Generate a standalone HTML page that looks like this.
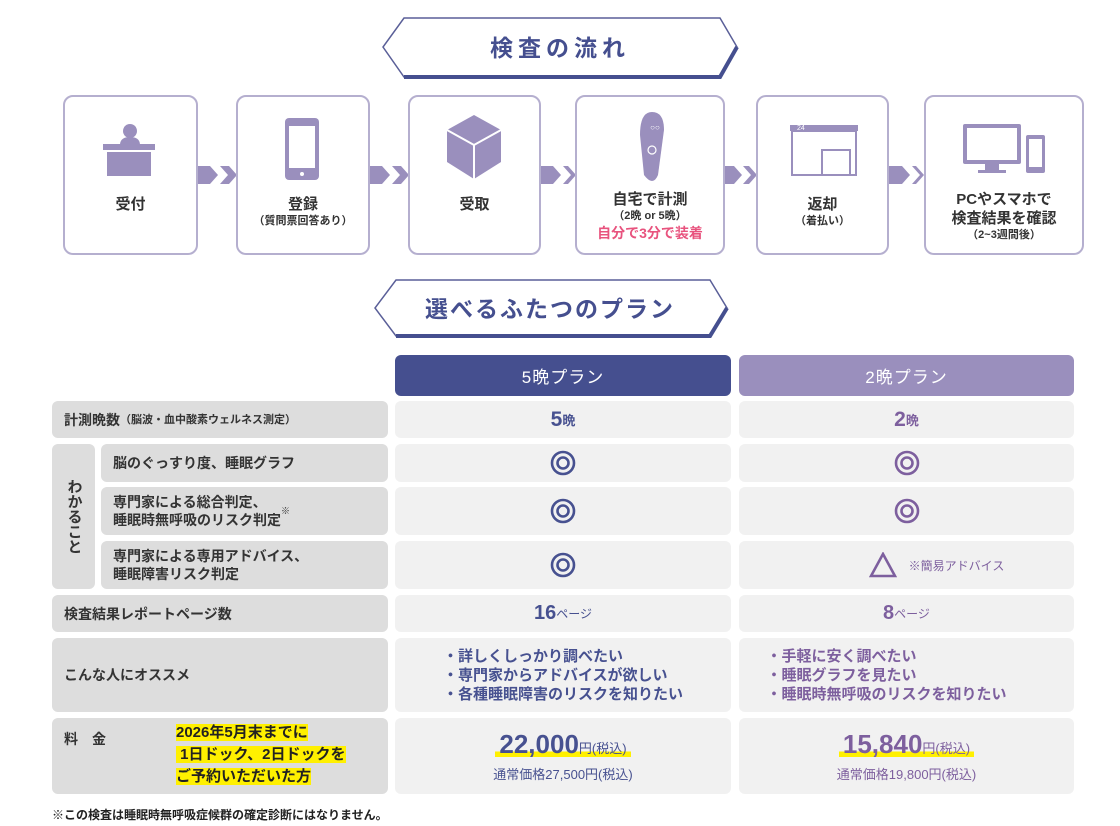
<!DOCTYPE html>
<html><head><meta charset="utf-8"><style>
*{margin:0;padding:0;box-sizing:border-box}
body{width:1120px;height:826px;background:#fff;position:relative;overflow:hidden;font-family:"Liberation Sans","Noto Sans CJK JP",sans-serif;color:#333}
.a{position:absolute}
.box{position:absolute;border:2px solid #b5afcf;border-radius:10px;background:#fff;top:95px;height:160px;text-align:center;font-weight:bold;font-size:15px;color:#333}
.box .t{position:absolute;left:0;right:0;top:98px;line-height:19px}
.box .s{font-size:11px;line-height:15px}
.c{position:absolute;border-radius:6px;display:flex;align-items:center}
.g{background:#dddddd;font-weight:bold;font-size:14px;padding-left:12px;line-height:18px}
.w{background:#f1f1f1;justify-content:center}
.n{color:#475190}.p{color:#7d5f9e}
.big{font-size:21px;font-weight:bold}
.hl{background:linear-gradient(transparent 72%,#fff000 72%,#fff000 90%,transparent 90%)}
</style></head><body>
<svg class="a" style="left:0;top:0" width="1120" height="826">
<polygon points="404,18 720,18 737,47 720,77 404,77 383,47" fill="#fff" stroke="#5a5f98" stroke-width="1.5"/>
<polyline points="404,77 720,77 737,47" fill="none" stroke="#454f8f" stroke-width="4"/>
<text x="560" y="56" text-anchor="middle" font-size="23" font-weight="bold" fill="#454f8f" letter-spacing="5" font-family="Liberation Sans,Noto Sans CJK JP,sans-serif">検査の流れ</text>
<polygon points="396,280 710,280 727,308 710,336 396,336 375,308" fill="#fff" stroke="#5a5f98" stroke-width="1.5"/>
<polyline points="396,336 710,336 727,308" fill="none" stroke="#454f8f" stroke-width="4"/>
<text x="550" y="317" text-anchor="middle" font-size="23" font-weight="bold" fill="#454f8f" letter-spacing="2" font-family="Liberation Sans,Noto Sans CJK JP,sans-serif">選べるふたつのプラン</text>
<g fill="#9a8fbd">
<path d="M198,166 h12 l8,9 -8,9 h-12z M220,166 h9 l8,9 -8,9 h-9 l8,-9z"/>
<path d="M370,166 h12 l8,9 -8,9 h-12z M392,166 h9 l8,9 -8,9 h-9 l8,-9z"/>
<path d="M541,166 h12 l8,9 -8,9 h-12z M563,166 h5 l8,9 -8,9 h-5 l8,-9z"/>
<path d="M725,166 h9 l8,9 -8,9 h-9z M743,166 h6 l8,9 -8,9 h-6 l8,-9z"/>
<path d="M889,166 h13 l8,9 -8,9 h-13z M912,166 h4 l8,9 -8,9 h-4 l8,-9z"/>
</g>
</svg>
<div class="box" style="left:63px;width:135px"><div class="t">受付</div></div>
<div class="box" style="left:236px;width:134px"><div class="t">登録<div class="s">（質問票回答あり）</div></div></div>
<div class="box" style="left:408px;width:133px"><div class="t">受取</div></div>
<div class="box" style="left:575px;width:150px"><div class="t" style="top:93px">自宅で計測<div class="s">（2晩 or 5晩）</div><div style="color:#e8537e;font-size:14px">自分で3分で装着</div></div></div>
<div class="box" style="left:756px;width:133px"><div class="t">返却<div class="s">（着払い）</div></div></div>
<div class="box" style="left:924px;width:160px"><div class="t" style="top:93px">PCやスマホで<br>検査結果を確認<div class="s">（2~3週間後）</div></div></div>
<svg class="a" style="left:0;top:0" width="1120" height="300">
<g fill="#9a8fbd">
<circle cx="130" cy="131" r="7"/><path d="M120,145 q0,-8 10,-8 q10,0 10,8z"/>
<rect x="103" y="144" width="52" height="6"/><rect x="107" y="152" width="44" height="24"/>
<rect x="285" y="118" width="34" height="62" rx="4"/><rect x="289" y="126" width="26" height="42" fill="#fff"/><circle cx="302" cy="174" r="2" fill="#fff"/>
<path d="M474,115 l27,15 v32 l-27,17 -27,-17 v-32z"/>
<path d="M447,130 l27,15 27,-15" stroke="#fff" stroke-width="2" fill="none"/><path d="M474,145 v34" stroke="#fff" stroke-width="2"/>
<path d="M652,112 q12,0 12,18 l-6,45 q-5,12 -14,0 l-4,-40 q0,-23 12,-23z"/>
<rect x="790" y="125" width="68" height="6"/><rect x="792" y="131" width="64" height="44" fill="none" stroke="#9a8fbd" stroke-width="2"/>
<rect x="822" y="150" width="28" height="25" fill="none" stroke="#9a8fbd" stroke-width="2"/>
<rect x="963" y="124" width="58" height="40" rx="2"/><rect x="967" y="128" width="50" height="32" fill="#fff"/><rect x="985" y="164" width="14" height="6"/><rect x="978" y="170" width="28" height="3"/>
<rect x="1026" y="135" width="19" height="38" rx="2"/><rect x="1029" y="139" width="13" height="28" fill="#fff"/>
</g>
<text x="655" y="130" font-size="8" fill="#fff" text-anchor="middle">○○</text>
<circle cx="652" cy="150" r="4" fill="none" stroke="#fff" stroke-width="1.2"/>
<text x="797" y="130" font-size="7" fill="#fff">24</text>
</svg>
<div class="c" style="left:395px;top:355px;width:336px;height:41px;background:#454f8f;color:#fff;justify-content:center;font-size:17px;letter-spacing:1px">5晩プラン</div>
<div class="c" style="left:739px;top:355px;width:335px;height:41px;background:#9a8fbd;color:#fff;justify-content:center;font-size:17px;letter-spacing:1px">2晩プラン</div>

<div class="c g" style="left:52px;top:401px;width:336px;height:37px">計測晩数<span style="font-size:11px">（脳波・血中酸素ウェルネス測定）</span></div>
<div class="c w n" style="left:395px;top:401px;width:336px;height:37px"><span class="big">5</span><span style="font-size:13px;font-weight:bold">晩</span></div>
<div class="c w p" style="left:739px;top:401px;width:335px;height:37px"><span class="big">2</span><span style="font-size:13px;font-weight:bold">晩</span></div>

<div class="c g" style="left:52px;top:444px;width:43px;height:145px;padding:0;justify-content:center;writing-mode:vertical-rl;font-size:15px">わかること</div>
<div class="c g" style="left:101px;top:444px;width:287px;height:38px">脳のぐっすり度、睡眠グラフ</div>
<div class="c g" style="left:101px;top:487px;width:287px;height:48px">専門家による総合判定、<br>睡眠時無呼吸のリスク判定 <sup style="font-size:9px">※</sup></div>
<div class="c g" style="left:101px;top:541px;width:287px;height:48px">専門家による専用アドバイス、<br>睡眠障害リスク判定</div>
<div class="c w" style="left:395px;top:444px;width:336px;height:38px"><svg width="26" height="26"><circle cx="13" cy="13" r="11" fill="none" stroke="#475190" stroke-width="2.6"/><circle cx="13" cy="13" r="5.5" fill="none" stroke="#475190" stroke-width="2.6"/></svg></div>
<div class="c w" style="left:739px;top:444px;width:335px;height:38px"><svg width="26" height="26"><circle cx="13" cy="13" r="11" fill="none" stroke="#7d5f9e" stroke-width="2.6"/><circle cx="13" cy="13" r="5.5" fill="none" stroke="#7d5f9e" stroke-width="2.6"/></svg></div>
<div class="c w" style="left:395px;top:487px;width:336px;height:48px"><svg width="26" height="26"><circle cx="13" cy="13" r="11" fill="none" stroke="#475190" stroke-width="2.6"/><circle cx="13" cy="13" r="5.5" fill="none" stroke="#475190" stroke-width="2.6"/></svg></div>
<div class="c w" style="left:739px;top:487px;width:335px;height:48px"><svg width="26" height="26"><circle cx="13" cy="13" r="11" fill="none" stroke="#7d5f9e" stroke-width="2.6"/><circle cx="13" cy="13" r="5.5" fill="none" stroke="#7d5f9e" stroke-width="2.6"/></svg></div>
<div class="c w" style="left:395px;top:541px;width:336px;height:48px"><svg width="26" height="26"><circle cx="13" cy="13" r="11" fill="none" stroke="#475190" stroke-width="2.6"/><circle cx="13" cy="13" r="5.5" fill="none" stroke="#475190" stroke-width="2.6"/></svg></div>
<div class="c w p" style="left:739px;top:541px;width:335px;height:48px"><svg width="28" height="26" style="margin-left:60px"><path d="M14,2 L26,24 H2z" fill="none" stroke="#7d5f9e" stroke-width="2.6"/></svg><span style="font-size:12px;margin-left:12px">※簡易アドバイス</span></div>

<div class="c g" style="left:52px;top:595px;width:336px;height:37px">検査結果レポートページ数</div>
<div class="c w n" style="left:395px;top:595px;width:336px;height:37px"><span style="font-size:20px;font-weight:bold">16</span><span style="font-size:12px">ページ</span></div>
<div class="c w p" style="left:739px;top:595px;width:335px;height:37px"><span style="font-size:20px;font-weight:bold">8</span><span style="font-size:12px">ページ</span></div>

<div class="c g" style="left:52px;top:638px;width:336px;height:74px">こんな人にオススメ</div>
<div class="c w n" style="left:395px;top:638px;width:336px;height:74px;font-size:15px;line-height:19px;font-weight:bold"><div>・詳しくしっかり調べたい<br>・専門家からアドバイスが欲しい<br>・各種睡眠障害のリスクを知りたい</div></div>
<div class="c w p" style="left:739px;top:638px;width:335px;height:74px;font-size:15px;line-height:19px;font-weight:bold"><div style="margin-left:-40px">・手軽に安く調べたい<br>・睡眠グラフを見たい<br>・睡眠時無呼吸のリスクを知りたい</div></div>

<div class="c g" style="left:52px;top:718px;width:336px;height:76px;align-items:flex-start;padding-top:12px">料　金</div>
<div class="a" style="left:176px;top:722px;font-size:15px;font-weight:bold;line-height:22px;color:#222"><span style="background:#fff000">2026年5月末までに</span><br><span style="background:#fff000">&nbsp;1日ドック、2日ドックを</span><br><span style="background:#fff000">ご予約いただいた方</span></div>
<div class="c w n" style="left:395px;top:718px;width:336px;height:76px;flex-direction:column"><div class="hl" style="padding:0 4px"><span style="font-size:26px;font-weight:bold">22,000</span><span style="font-size:13px">円(税込)</span></div><div style="font-size:13px;margin-top:4px">通常価格27,500円(税込)</div></div>
<div class="c w p" style="left:739px;top:718px;width:335px;height:76px;flex-direction:column"><div class="hl" style="padding:0 4px"><span style="font-size:26px;font-weight:bold">15,840</span><span style="font-size:13px">円(税込)</span></div><div style="font-size:13px;margin-top:4px">通常価格19,800円(税込)</div></div>

<div class="a" style="left:52px;top:806px;font-size:12px;font-weight:bold;color:#222">※この検査は睡眠時無呼吸症候群の確定診断にはなりません。</div>
</body></html>
